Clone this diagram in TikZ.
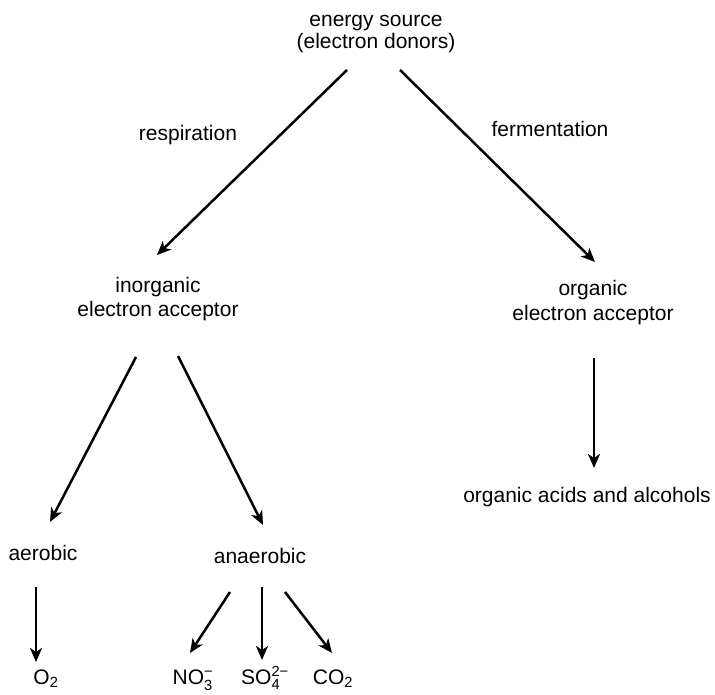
\documentclass[tikz,border=0pt]{standalone}
\usepackage{fontspec}
\usepackage{amsmath}
\setmainfont{Liberation Sans}
\usetikzlibrary{arrows.meta}
\begin{document}
\begin{tikzpicture}[x=1pt,y=-1pt,
  lbl/.style={inner sep=0pt, font=\fontsize{21}{23}\selectfont, anchor=base},
  arr/.style={line width=2.5pt, -{Stealth[length=14pt,width=12pt,inset=4pt]}}]
\useasboundingbox (0,0) rectangle (715,695);
% texts
\node[lbl] (src1) at (376,27) {energy source};
\node[lbl] (src2) at (376,49) {(electron donors)};
\node[lbl] (resp) at (188,141) {respiration};
\node[lbl] (ferm) at (550,137) {fermentation};
\node[lbl] (inorg1) at (158,292) {inorganic};
\node[lbl] (inorg2) at (158,316) {electron acceptor};
\node[lbl] (org1) at (593,295) {organic};
\node[lbl] (org2) at (593,320) {electron acceptor};
\node[lbl] (acids) at (587,502) {organic acids and alcohols};
\node[lbl] (aer) at (43,560) {aerobic};
\node[lbl] (anaer) at (260,563) {anaerobic};
\node[lbl] (o2) at (46,684) {O$_{\text{2}}$};
\node[lbl] (no3) at (193,684) {NO$_{\text{3}}^{\text{−}}$};
\node[lbl] (so4) at (265,684) {SO$_{\text{4}}^{\text{2−}}$};
\node[lbl] (co2) at (333,684) {CO$_{\text{2}}$};
% connector ends
\coordinate (srcL) at (347,70);
\coordinate (srcR) at (400,70);
\coordinate (inorgT) at (157,255);
\coordinate (orgT) at (595,262);
\coordinate (inorgL) at (136,357);
\coordinate (inorgR) at (178,356);
\coordinate (aerT) at (50,522);
\coordinate (anaerT) at (263,525);
\coordinate (orgB) at (594,358);
\coordinate (acidsT) at (594,468);
\coordinate (aerB) at (36,587);
\coordinate (o2T) at (36,662);
\coordinate (anL) at (230,592);
\coordinate (anM) at (262,587);
\coordinate (anR) at (285,592);
\coordinate (no3T) at (190,653);
\coordinate (so4T) at (262,660);
\coordinate (co2T) at (332,653);
% arrows
\draw[arr] (srcL) -- (inorgT);
\draw[arr] (srcR) -- (orgT);
\draw[arr] (inorgL) -- (aerT);
\draw[arr] (inorgR) -- (anaerT);
\draw[arr] (orgB) -- (acidsT);
\draw[arr] (aerB) -- (o2T);
\draw[arr] (anL) -- (no3T);
\draw[arr] (anM) -- (so4T);
\draw[arr] (anR) -- (co2T);
\end{tikzpicture}
\end{document}
